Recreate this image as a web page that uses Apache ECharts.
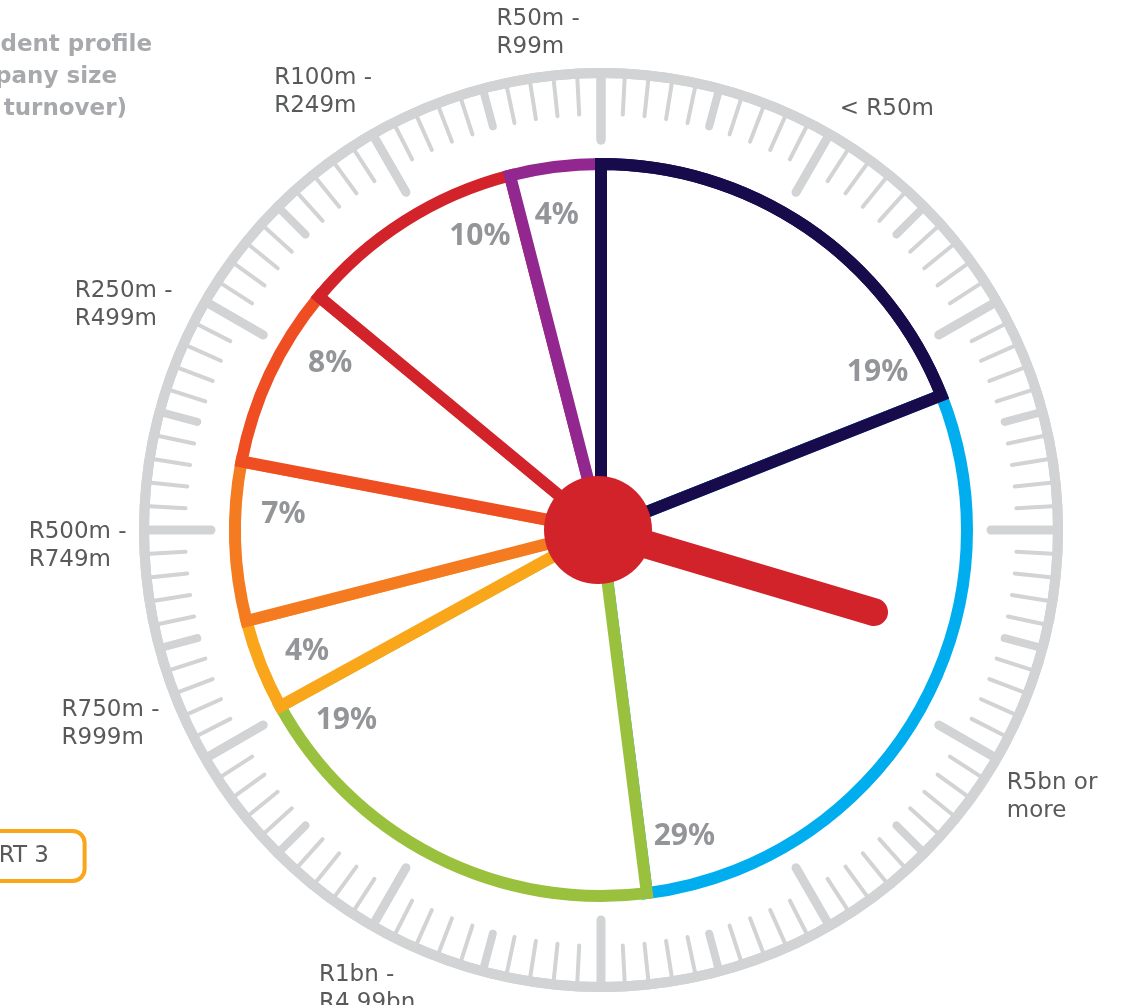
<!DOCTYPE html>
<html>
<head>
<meta charset="utf-8">
<title>Respondent profile</title>
<script src="https://cdn.jsdelivr.net/npm/echarts@6/dist/echarts.min.js"></script>
<style>
  html, body { margin: 0; padding: 0; background: #fff; }
  #chart { width: 1128px; height: 1005px; }
</style>
</head>
<body>
<div id="chart"></div>
<script>
// company size bands, clockwise from 12 o'clock
var categories = ['< R50m', 'R5bn or\nmore', 'R1bn -\nR4.99bn', 'R750m -\nR999m',
  'R500m -\nR749m', 'R250m -\nR499m', 'R100m -\nR249m', 'R50m -\nR99m'];
// share of respondents (%)
var shares = [19, 29, 19, 4, 7, 8, 10, 4];
var sliceColors = ['#170B4C', '#00AEEF', '#9AC13D', '#FAA61A',
  '#F47B20', '#EF4E23', '#D2232A', '#92278F'];
// where the clock hand points, on the 0-100 dial
var handValue = 29.6;
// heading lines (cut by the left edge of the page)
var titleLines = ['Respondent profile', 'by company size', '(annual turnover)'];

var W = 1128;
var cx = 601, cy = 530;
var red = '#D2232A';
var tickGray = '#D1D3D4';

// start / end angle of every slice, degrees clockwise from top
var total = shares.reduce(function (a, b) { return a + b; }, 0);
var acc = 0;
var angles = shares.map(function (v) {
  var s = acc / total * 360;
  acc += v;
  return { start: s, end: acc / total * 360 };
});

function toXY(deg, r) {
  var t = deg * Math.PI / 180;
  return [cx + r * Math.sin(t), cy - r * Math.cos(t)];
}

var chart = echarts.init(document.getElementById('chart'));

// each heading line is right-anchored so its visible end matches
var titleEnds = [152, 117, 127];
var headTitles = titleLines.map(function (t, i) {
  return {
    text: t,
    right: W - titleEnds[i] - 5,
    top: 24 + i * 32,
    textStyle: {
      fontFamily: 'DejaVu Sans',
      fontWeight: 'bold',
      fontSize: 23,
      lineHeight: 32,
      color: '#A7A9AC'
    }
  };
});

var option = {
  animation: false,
  title: headTitles.concat([
    {
      text: 'CHART 3',
      right: W - 85,
      top: 831,
      padding: [12, 36],
      borderColor: '#FAA61A',
      borderWidth: 4,
      borderRadius: 12,
      textStyle: {
        fontFamily: 'DejaVu Sans',
        fontWeight: 'normal',
        fontSize: 23,
        lineHeight: 26,
        color: '#58595B'
      }
    }
  ]),
  series: [
    // dial: ring, 3° ticks, thicker 15° ticks
    {
      type: 'gauge',
      z: 1,
      center: [cx, cy],
      radius: 462,
      startAngle: 90,
      endAngle: -270,
      min: 0,
      max: 100,
      splitNumber: 24,
      axisLine: { lineStyle: { width: 10, color: [[1, tickGray]] } },
      splitLine: { distance: 0, length: 34, lineStyle: { width: 8, color: tickGray, cap: 'round' } },
      axisTick: { splitNumber: 5, distance: 0, length: 36, lineStyle: { width: 4, color: tickGray, cap: 'round' } },
      axisLabel: { show: false },
      pointer: { show: false },
      anchor: { show: false },
      title: { show: false },
      detail: { show: false },
      data: []
    },
    // long hour marks every 30°
    {
      type: 'gauge',
      z: 1,
      center: [cx, cy],
      radius: 462,
      startAngle: 90,
      endAngle: -270,
      min: 0,
      max: 100,
      splitNumber: 12,
      axisLine: { lineStyle: { width: 10, color: [[1, tickGray]] } },
      splitLine: { distance: 0, length: 62, lineStyle: { width: 9, color: tickGray, cap: 'round' } },
      axisTick: { show: false },
      axisLabel: { show: false },
      pointer: { show: false },
      anchor: { show: false },
      title: { show: false },
      detail: { show: false },
      data: []
    },
    // outlined slices + category labels
    {
      type: 'pie',
      z: 2,
      center: [cx, cy],
      radius: [0, 366],
      startAngle: 90,
      clockwise: true,
      silent: true,
      data: categories.map(function (c, i) {
        return {
          name: c,
          value: shares[i],
          itemStyle: { color: '#fff', borderColor: sliceColors[i], borderWidth: 12, borderJoin: 'miter' }
        };
      }),
      label: {
        show: true,
        position: 'inside',
        formatter: function (p) {
          return p.name.split('\n').map(function (l) { return '{n|' + l + '}'; }).join('\n');
        },
        rich: {
          n: {
            align: 'left',
            fontFamily: 'DejaVu Sans',
            fontSize: 23,
            lineHeight: 28,
            color: '#58595B'
          }
        }
      },
      labelLine: { show: false },
      labelLayout: function (p) {
        var a = angles[p.dataIndex];
        var mid = (a.start + a.end) / 2 * Math.PI / 180;
        var ux = Math.sin(mid), uy = -Math.cos(mid);
        var r = 474 + p.labelRect.width / 2 * Math.abs(ux) + p.labelRect.height / 2 * Math.abs(uy) * 0.85;
        return { x: cx + r * ux, y: cy + r * uy, align: 'center', verticalAlign: 'middle' };
      }
    },
    // navy spokes sit on top of neighbours; percentage labels
    {
      type: 'pie',
      z: 3,
      center: [cx, cy],
      radius: [0, 366],
      startAngle: 90,
      clockwise: true,
      silent: true,
      data: categories.map(function (c, i) {
        return {
          name: c,
          value: shares[i],
          itemStyle: {
            color: 'rgba(0,0,0,0)',
            borderColor: i === 0 ? sliceColors[0] : 'rgba(0,0,0,0)',
            borderWidth: 12,
            borderJoin: 'miter'
          }
        };
      }),
      label: {
        show: true,
        position: 'inside',
        formatter: '{c}%',
        fontFamily: 'Noto Sans',
        fontWeight: 'bold',
        fontSize: 30,
        color: '#939598'
      },
      labelLine: { show: false },
      labelLayout: function (p) {
        var xy = toXY(angles[p.dataIndex].end - 8, 318);
        return { x: xy[0], y: xy[1], align: 'center', verticalAlign: 'middle' };
      }
    },
    // clock hand
    {
      type: 'gauge',
      z: 5,
      center: [cx - 3, cy],
      radius: 462,
      startAngle: 90,
      endAngle: -270,
      min: 0,
      max: 100,
      axisLine: { show: false },
      splitLine: { show: false },
      axisTick: { show: false },
      axisLabel: { show: false },
      progress: { show: false },
      pointer: {
        icon: 'path://M0,14 C0,6.3 6.3,0 14,0 C21.7,0 28,6.3 28,14 L28,302 L0,302 Z',
        length: 302,
        width: 28,
        offsetCenter: [0, 0],
        itemStyle: { color: red }
      },
      anchor: { show: true, showAbove: true, size: 108, icon: 'circle', itemStyle: { color: red } },
      title: { show: false },
      detail: { show: false },
      data: [{ value: handValue }]
    }
  ]
};

chart.setOption(option);
window.addEventListener('resize', chart.resize);
</script>
</body>
</html>
